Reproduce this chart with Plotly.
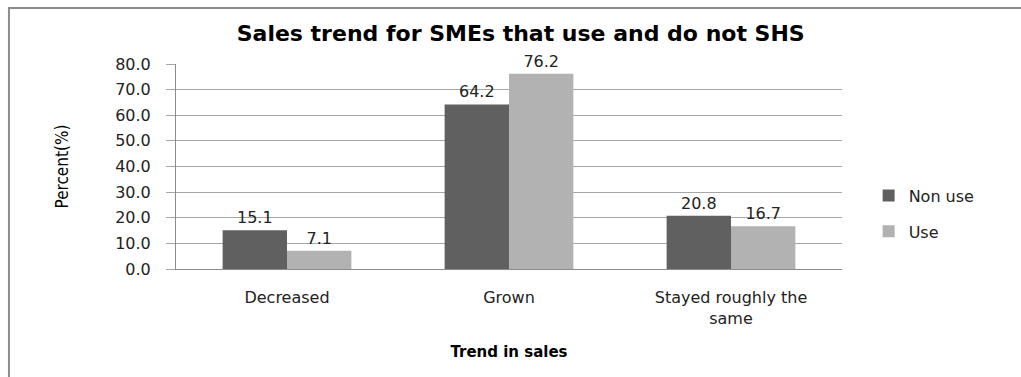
import plotly.graph_objects as go

# Sales trend categories and the share of SMEs (in %) for each group
categories = ["Decreased", "Grown", "Stayed roughly the<br>same"]
non_use = [15.1, 64.2, 20.8]
use = [7.1, 76.2, 16.7]
y_ticks = [0, 10, 20, 30, 40, 50, 60, 70, 80]
y_tick_labels = [f"{v:.1f}" for v in y_ticks]

label_font = dict(family="DejaVu Sans", size=16, color="#222222")

fig = go.Figure()
fig.add_trace(go.Bar(
    name="Non use", x=categories, y=non_use,
    marker=dict(color="#606060", line=dict(width=0)),
    text=[f"{v:.1f}" for v in non_use], textposition="outside",
    textfont=label_font, cliponaxis=False, legendgroup="a",
))
fig.add_trace(go.Bar(
    name="Use", x=categories, y=use,
    marker=dict(color="#b2b2b2", line=dict(width=0)),
    text=[f"{v:.1f}" for v in use], textposition="outside",
    textfont=label_font, cliponaxis=False, legendgroup="b",
))

fig.update_layout(
    width=1021, height=377,
    margin=dict(l=176, r=179, t=64, b=108),
    paper_bgcolor="white", plot_bgcolor="white",
    barmode="group", bargap=0.42, bargroupgap=0,
    title=dict(
        text="<b>Sales trend for SMEs that use and do not SHS</b>",
        font=dict(family="DejaVu Sans", size=22, color="black"),
        x=0.51, xanchor="center", y=0.912, yanchor="middle",
    ),
    legend=dict(
        x=1.04, y=0.27, xanchor="left", yanchor="middle",
        font=dict(family="DejaVu Sans", size=16, color="#222222"),
        traceorder="grouped", tracegroupgap=12,
        itemwidth=30, bgcolor="rgba(0,0,0,0)",
    ),
    font=dict(family="DejaVu Sans", color="#222222"),
    showlegend=True,
)

fig.update_xaxes(
    showline=True, linecolor="#8c8c8c", linewidth=1,
    ticks="", ticklabelstandoff=14,
    tickfont=dict(family="DejaVu Sans", size=16, color="#222222"),
    title=dict(text="<b>Trend in sales</b>",
               font=dict(family="DejaVu Sans", size=15, color="black"),
               standoff=19),
)
fig.update_yaxes(
    range=[0, 80], tickvals=y_ticks, ticktext=y_tick_labels,
    showgrid=True, gridcolor="#a6a6a6", gridwidth=1,
    showline=True, linecolor="#8c8c8c", linewidth=1,
    ticks="outside", ticklen=9, tickcolor="#a6a6a6",
    ticklabelstandoff=12,
    tickfont=dict(family="DejaVu Sans", size=16, color="#222222"),
    zeroline=False,
    title=dict(text="Percent(%)",
               font=dict(family="DejaVu Sans Condensed", size=17, color="black"),
               standoff=42),
)

# Outer chart frame
fig.add_shape(
    type="rect", xref="paper", yref="paper",
    x0=-0.2508, x1=1.3, y0=-0.62, y1=1.273,
    line=dict(color="#8c8c8c", width=2), fillcolor="rgba(0,0,0,0)",
    layer="below",
)

fig.write_html("out.html")
